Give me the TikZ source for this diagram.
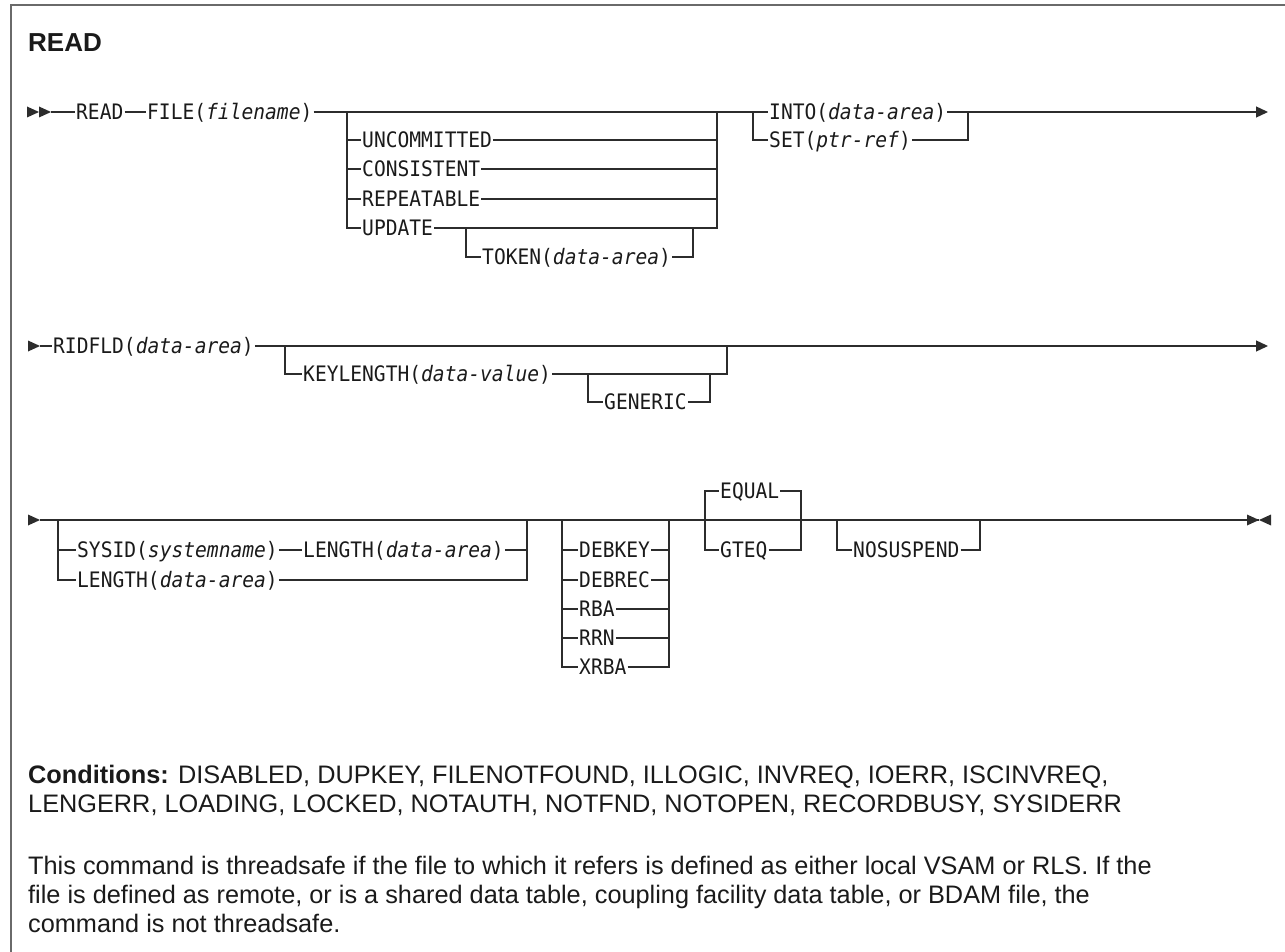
\documentclass[tikz,border=0pt]{standalone}
\usepackage{fontspec}
\setmainfont{Liberation Sans}
\setmonofont{DejaVu Sans Mono}[FakeStretch=0.92, ItalicFont={DejaVu Sans Mono Oblique}, ItalicFeatures={FakeStretch=0.92}]
\usepackage{tikz}
\usetikzlibrary{arrows.meta,calc}
\definecolor{ink}{HTML}{1A1A1A}
\definecolor{railgray}{HTML}{2C2C2C}
\definecolor{framegray}{HTML}{6A6A6A}
\newcommand{\argv}[1]{\textit{#1}}

\tikzset{
  kw/.style={font=\ttfamily\fontsize{21.3}{24}\selectfont, text=ink, anchor=west,
    inner xsep=1pt, inner ysep=0pt, text height=15.4pt, text depth=0pt},
  rail/.style={draw=railgray, line width=1.3pt},
  tip/.style={fill=railgray},
  prose/.style={font=\fontsize{25.3}{30}\selectfont, text=ink, anchor=base west, inner sep=0pt},
}

\begin{document}
\begin{tikzpicture}[x=1pt, y=-1pt, >={Triangle[length=12pt,width=11pt]}]
  \useasboundingbox (0,0) rectangle (1285,952);
  \draw[draw=framegray, line width=2pt] (11,952) -- (11,5) -- (1285,5);
  \node[font=\bfseries\fontsize{26}{30}\selectfont, text=ink, anchor=base west, inner sep=0pt] (title) at (28,52) {READ};

  % first line
  \coordinate (r1s) at (27,112); \coordinate (r1a) at (51,112);
  \fill[tip] (r1s) -- ++(0,-5.5) -- ++(12,5.5) -- ++(-12,5.5) -- cycle;
  \fill[tip] ($(r1s)+(12,0)$) -- ++(0,-5.5) -- ++(12,5.5) -- ++(-12,5.5) -- cycle;
  \node[kw] (read) at (75,112) {READ};
  \node[kw] (file) at (146,112) {FILE(\argv{filename})};
  \draw[rail] (r1a) -- (read.west);
  \draw[rail] (read.east) -- (file.west);
  \coordinate (g1l) at (347,112); \coordinate (g1r) at (717,112);
  \draw[rail] (file.east) -- (g1l) -- (g1r);
  \foreach \w/\y/\n in {UNCOMMITTED/140/unc, CONSISTENT/169/con, REPEATABLE/199/rep, UPDATE/228/upd} {
    \node[kw] (\n) at (361,\y) {\w};
    \draw[rail] (g1l) |- (\n.west);
    \draw[rail] (\n.east) -| (g1r);
  }
  \coordinate (tkl) at (466,228); \coordinate (tkr) at (693,228);
  \node[kw] (token) at (481,257) {TOKEN(\argv{data-area})};
  \draw[rail] (tkl) |- (token.west);
  \draw[rail] (token.east) -| (tkr);
  \coordinate (g2l) at (753,112); \coordinate (g2r) at (968,112);
  \node[kw] (into) at (768,112) {INTO(\argv{data-area})};
  \node[kw] (set) at (768,140) {SET(\argv{ptr-ref})};
  \draw[rail] (g1r) -- (into.west);
  \draw[rail] (g2l) |- (set.west);
  \draw[rail] (into.east) -- (g2r);
  \draw[rail] (set.east) -| (g2r);
  \coordinate (r1e) at (1268,112);
  \draw[rail, ->] (g2r) -- (r1e);

  % second line
  \coordinate (r2s) at (28,346); \coordinate (r2a) at (40,346);
  \fill[tip] (r2s) -- ++(0,-5.5) -- ++(12,5.5) -- ++(-12,5.5) -- cycle;
  \node[kw] (ridfld) at (52,346) {RIDFLD(\argv{data-area})};
  \draw[rail] (r2a) -- (ridfld.west);
  \coordinate (g3l) at (285,346); \coordinate (g3r) at (727,346);
  \node[kw] (keylen) at (302,374) {KEYLENGTH(\argv{data-value})};
  \draw[rail] (ridfld.east) -- (g3l) -- (g3r);
  \draw[rail] (g3l) |- (keylen.west);
  \draw[rail] (keylen.east) -| (g3r);
  \coordinate (gnl) at (588,374); \coordinate (gnr) at (710,374);
  \node[kw] (generic) at (603,402) {GENERIC};
  \draw[rail] (gnl) |- (generic.west);
  \draw[rail] (generic.east) -| (gnr);
  \coordinate (r2e) at (1268,346);
  \draw[rail, ->] (g3r) -- (r2e);

  % third line
  \coordinate (r3s) at (28,520); \coordinate (r3a) at (40,520);
  \fill[tip] (r3s) -- ++(0,-5.5) -- ++(12,5.5) -- ++(-12,5.5) -- cycle;
  \coordinate (r3e) at (1259,520);
  \draw[rail] (r3a) -- (r3e);
  \fill[tip] (r3e) -- ++(-12,-5.5) -- ++(0,11) -- cycle;
  \fill[tip] (r3e) -- ++(12,-5.5) -- ++(0,11) -- cycle;
  \coordinate (g4l) at (58,520); \coordinate (g4r) at (527,520);
  \node[kw] (sysid) at (76,550) {SYSID(\argv{systemname})};
  \node[kw] (lenA) at (302,550) {LENGTH(\argv{data-area})};
  \node[kw] (lenB) at (76,580) {LENGTH(\argv{data-area})};
  \draw[rail] (g4l) |- (sysid.west);
  \draw[rail] (sysid.east) -- (lenA.west);
  \draw[rail] (lenA.east) -| (g4r);
  \draw[rail] (g4l) |- (lenB.west);
  \draw[rail] (lenB.east) -| (g4r);
  \coordinate (g5l) at (562,520); \coordinate (g5r) at (669,520);
  \foreach \w/\y in {DEBKEY/550, DEBREC/580, RBA/609, RRN/638, XRBA/667} {
    \node[kw] (\w) at (578,\y) {\w};
    \draw[rail] (g5l) |- (\w.west);
    \draw[rail] (\w.east) -| (g5r);
  }
  \coordinate (g6l) at (705,520); \coordinate (g6r) at (801,520);
  \node[kw] (equal) at (719,491) {EQUAL};
  \node[kw] (gteq) at (719,550) {GTEQ};
  \draw[rail] (g6l) |- (equal.west);
  \draw[rail] (equal.east) -| (g6r);
  \draw[rail] (g6l) |- (gteq.west);
  \draw[rail] (gteq.east) -| (g6r);
  \coordinate (g7l) at (837,520); \coordinate (g7r) at (980,520);
  \node[kw] (nosusp) at (852,550) {NOSUSPEND};
  \draw[rail] (g7l) |- (nosusp.west);
  \draw[rail] (nosusp.east) -| (g7r);

  % conditions and note
  \node[prose] (cond1) at (28,783) {\textbf{Conditions:} DISABLED, DUPKEY, FILENOTFOUND, ILLOGIC, INVREQ, IOERR, ISCINVREQ,};
  \node[prose] (cond2) at (28,812) {LENGERR, LOADING, LOCKED, NOTAUTH, NOTFND, NOTOPEN, RECORDBUSY, SYSIDERR};
  \node[prose] (note1) at (28,874) {This command is threadsafe if the file to which it refers is defined as either local VSAM or RLS. If the};
  \node[prose] (note2) at (28,903) {file is defined as remote, or is a shared data table, coupling facility data table, or BDAM file, the};
  \node[prose] (note3) at (28,932) {command is not threadsafe.};
\end{tikzpicture}
\end{document}
